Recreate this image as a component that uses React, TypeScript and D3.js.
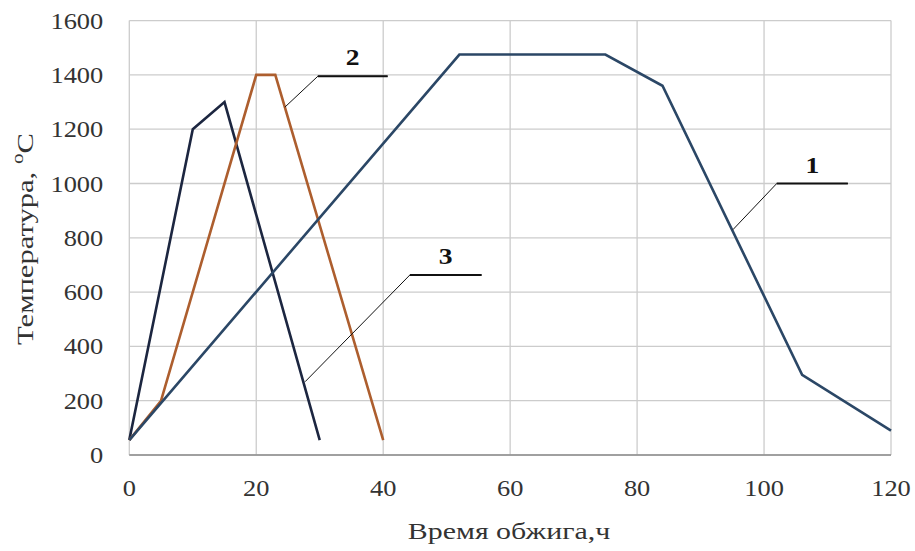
import React from "react";
import * as d3 from "d3";

const xTicks = [0, 20, 40, 60, 80, 100, 120];
const yTicks = [0, 200, 400, 600, 800, 1000, 1200, 1400, 1600];

const series1X = [0, 52, 75, 84, 106, 120];
const series1Y = [55, 1475, 1475, 1360, 295, 90];
const series2X = [0, 5, 20, 23, 40];
const series2Y = [55, 200, 1400, 1400, 55];
const series3X = [0, 10, 15, 30];
const series3Y = [55, 1200, 1300, 55];

const calloutLabels = ["1", "2", "3"];
const calloutAnchorX = [95.1, 24.5, 27.7];
const calloutAnchorY = [830, 1281, 270];
const calloutElbowX = [102, 29.7, 44.2];
const calloutElbowY = [1000, 1395, 663];
const calloutEndX = [113.2, 40.7, 55.5];

const W = 915;
const H = 551;
const left = 129.3;
const right = 891;
const top = 20.6;
const bottom = 455;

export default function App() {
  const x = d3.scaleLinear().domain([0, 120]).range([left, right]);
  const y = d3.scaleLinear().domain([0, 1600]).range([bottom, top]);
  const line = d3
    .line<[number, number]>()
    .x((d) => x(d[0]))
    .y((d) => y(d[1]));
  const zip = (xs: number[], ys: number[]) =>
    xs.map((v, i) => [v, ys[i]] as [number, number]);

  const serif = "'Liberation Serif', 'Times New Roman', serif";
  const sx = 1.15;
  const fs = 23;

  const series = [
    { d: zip(series3X, series3Y), color: "#1c2640" },
    { d: zip(series2X, series2Y), color: "#ad5e2e" },
    { d: zip(series1X, series1Y), color: "#2b4766" },
  ];

  return (
    <svg
      width={W}
      height={H}
      style={{ position: "absolute", left: 0, top: 0, background: "#fff" }}
    >
      <rect x={0} y={0} width={W} height={H} fill="#fff" />
      {xTicks.map((t) => (
        <line
          key={"gx" + t}
          x1={x(t)}
          x2={x(t)}
          y1={top}
          y2={bottom}
          stroke="#cccccc"
          strokeWidth={1.3}
        />
      ))}
      {yTicks.map((t) => (
        <line
          key={"gy" + t}
          x1={left}
          x2={right}
          y1={y(t)}
          y2={y(t)}
          stroke="#cccccc"
          strokeWidth={1.3}
        />
      ))}
      <line x1={left} x2={right} y1={bottom} y2={bottom} stroke="#8c8c8c" strokeWidth={1.5} />
      {yTicks.map((t) => (
        <text
          key={"ty" + t}
          transform={`translate(${left - 26},${y(t) + 8}) scale(${sx},1)`}
          textAnchor="end"
          fontFamily={serif}
          fontSize={fs}
          fill="#333"
        >
          {t}
        </text>
      ))}
      {xTicks.map((t) => (
        <text
          key={"tx" + t}
          transform={`translate(${x(t)},${bottom + 41}) scale(${sx},1)`}
          textAnchor="middle"
          fontFamily={serif}
          fontSize={fs}
          fill="#333"
        >
          {t}
        </text>
      ))}
      <text
        transform={`translate(509,539) scale(1.3,1)`}
        textAnchor="middle"
        fontFamily={serif}
        fontSize={fs}
        fill="#333"
      >
        Время обжига,ч
      </text>
      <text
        transform={`translate(33,239) rotate(-90) scale(1.33,1)`}
        textAnchor="middle"
        fontFamily={serif}
        fontSize={fs}
        fill="#333"
      >
        <tspan>Температура, </tspan>
        <tspan fontSize={16} dy={-10}>o</tspan>
        <tspan dy={10}>C</tspan>
      </text>
      {series.map((s, i) => (
        <path
          key={"s" + i}
          d={line(s.d) || ""}
          fill="none"
          stroke={s.color}
          strokeWidth={2.6}
          strokeLinejoin="miter"
        />
      ))}
      {calloutLabels.map((lab, i) => {
        const pts: [number, number][] = [
          [calloutAnchorX[i], calloutAnchorY[i]],
          [calloutElbowX[i], calloutElbowY[i]],
          [calloutEndX[i], calloutElbowY[i]],
        ];
        return (
          <g key={"c" + lab}>
            <path d={line(pts) || ""} fill="none" stroke="#111" strokeWidth={1} />
            <path
              d={line(pts.slice(1)) || ""}
              fill="none"
              stroke="#111"
              strokeWidth={2}
            />
            <text
              transform={`translate(${(x(calloutElbowX[i]) + x(calloutEndX[i])) / 2},${
                y(calloutElbowY[i]) - 11
              }) scale(${sx},1)`}
              textAnchor="middle"
              fontFamily={serif}
              fontWeight="bold"
              fontSize={24}
              fill="#111"
            >
              {lab}
            </text>
          </g>
        );
      })}
    </svg>
  );
}
